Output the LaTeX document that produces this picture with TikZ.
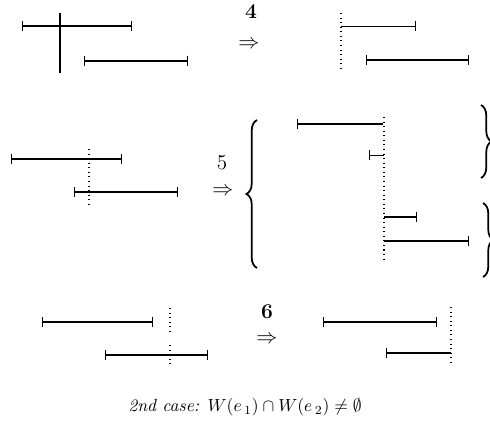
\documentclass[tikz,border=0pt]{standalone}
\usetikzlibrary{arrows.meta,decorations.pathreplacing}
\begin{document}
\begin{tikzpicture}[x=0.02cm,y=-0.02cm,
  seg/.style={line width=1pt,{Bar[width=6pt,line width=0.8pt]}-{Bar[width=6pt,line width=0.8pt]}},
  segl/.style={line width=1pt,{Bar[width=6pt,line width=0.8pt]}-},
  segr/.style={line width=1pt,-{Bar[width=6pt,line width=0.8pt]}},
  thinr/.style={line width=0.5pt,-{Bar[width=6pt,line width=0.8pt]}},
  thinl/.style={line width=0.5pt,{Bar[width=6pt,line width=0.6pt]}-},
  dotv/.style={line width=0.6pt,dotted},
  solidv/.style={line width=0.6pt},
  bigbrace/.style={line width=1pt,decorate,decoration={brace,amplitude=6pt}},
  num/.style={font=\bfseries\large},
  imp/.style={font=\large}]
\useasboundingbox (0,0) rectangle (490,430);
% row 1
\draw[seg] (22,26) -- (132,26);
\draw[solidv] (60,13) -- (60,73);
\draw[seg] (84,61) -- (188,61);
\node[num] (n4) at (251,12) {4};
\node[imp] (a4) at (249,45) {$\Rightarrow$};
\draw[dotv] (341,13) -- (341,69);
\draw[thinr] (341,26) -- (416,26);
\draw[seg] (366,60) -- (469,60);
% row 2
\draw[seg] (11,159) -- (122,159);
\draw[dotv] (89,149) -- (89,207);
\draw[seg] (74,192) -- (178,192);
\node[font=\large] (n5) at (222,163) {5};
\node[imp] (a5) at (223,192) {$\Rightarrow$};
\draw[bigbrace] (257,268) -- (257,120);
\draw[segl,line width=0.7pt] (297,124) -- (383,124);
\draw[dotv] (384,117) -- (384,262);
\draw[thinl] (369,155) -- (384,155);
\draw[segr] (384,217) -- (417,217);
\draw[segr,line width=0.8pt] (384,241) -- (469,241);
\draw[bigbrace] (481,105) -- (481,178);
\draw[bigbrace] (483,203) -- (483,277);
% row 3
\draw[seg,line width=0.7pt] (42,322) -- (153,322);
\draw[dotv] (170,308) -- (170,333);
\draw[dotv] (170,345) -- (170,364);
\draw[seg,line width=0.7pt] (105,355) -- (208,355);
\node[num] (n6) at (267,312) {6};
\node[imp] (a6) at (267,340) {$\Rightarrow$};
\draw[seg] (323,322) -- (437,322);
\draw[dotv] (451,307) -- (451,362);
\draw[segl,line width=0.7pt] (386,353) -- (451,353);
\node[font=\itshape] (cap) at (245,407) {2nd case: $W(e_{\,1})\cap W(e_{\,2})\neq\emptyset$};
\end{tikzpicture}
\end{document}
